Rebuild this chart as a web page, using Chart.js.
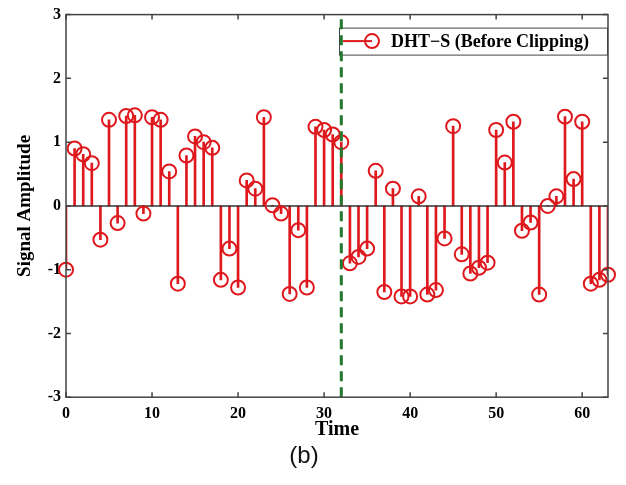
<!DOCTYPE html>
<html>
<head>
<meta charset="utf-8">
<script src="https://cdn.jsdelivr.net/npm/chart.js@4.4.0/dist/chart.umd.min.js"></script>
<style>
  html, body { margin: 0; padding: 0; background: #fff; }
</style>
</head>
<body>
<canvas id="chart" width="626" height="485"></canvas>
<script>
// sample index (time) and DHT-S amplitude before clipping
const timeIdx = [
  0, 1, 2, 3, 4, 5, 6, 7, 8, 9,
  10, 11, 12, 13, 14, 15, 16, 17, 18, 19,
  20, 21, 22, 23, 24, 25, 26, 27, 28, 29,
  30, 31, 32, 33, 34, 35, 36, 37, 38, 39,
  40, 41, 42, 43, 44, 45, 46, 47, 48, 49,
  50, 51, 52, 53, 54, 55, 56, 57, 58, 59,
  60, 61, 62, 63
];
const amplitude = [
  -1.0, 0.9, 0.81, 0.67, -0.53, 1.35, -0.27, 1.41, 1.42, -0.12,
  1.39, 1.35, 0.54, -1.22, 0.79, 1.09, 1.0, 0.91, -1.16, -0.67,
  -1.28, 0.40, 0.27, 1.39, 0.01, -0.12, -1.38, -0.38, -1.28, 1.24,
  1.19, 1.12, 1.0, -0.9, -0.8, -0.67, 0.55, -1.35, 0.27, -1.42,
  -1.42, 0.15, -1.39, -1.32, -0.51, 1.25, -0.76, -1.06, -0.97, -0.89,
  1.19, 0.68, 1.32, -0.39, -0.26, -1.39, 0.0, 0.15, 1.40, 0.42,
  1.32, -1.22, -1.16, -1.08
];
const clipMark = [32];
const xTicks = [0, 10, 20, 30, 40, 50, 60];
const yTicks = [-3, -2, -1, 0, 1, 2, 3];
const xRange = [0, 63];
const yRange = [-3, 3];
const seriesLabel = 'DHT\u2212S (Before Clipping)';

const RED = 'rgb(222, 24, 28)';
const GREEN = 'rgb(34, 120, 44)';
const serif = "'Liberation Serif', 'Times New Roman', serif";

const points = timeIdx.map((t, i) => ({ x: t, y: amplitude[i] }));

// box + inward tick marks, matlab style
const framePlugin = {
  id: 'frame',
  afterDraw(chart) {
    const { ctx, chartArea: a, scales } = chart;
    const len = 5;
    ctx.save();
    ctx.strokeStyle = '#444';
    ctx.lineWidth = 1.5;
    ctx.strokeRect(a.left, a.top, a.right - a.left, a.bottom - a.top);
    ctx.beginPath();
    xTicks.forEach(v => {
      const px = scales.x.getPixelForValue(v);
      ctx.moveTo(px, a.bottom); ctx.lineTo(px, a.bottom - len);
      ctx.moveTo(px, a.top); ctx.lineTo(px, a.top + len);
    });
    yTicks.forEach(v => {
      const py = scales.y.getPixelForValue(v);
      ctx.moveTo(a.left, py); ctx.lineTo(a.left + len, py);
      ctx.moveTo(a.right, py); ctx.lineTo(a.right - len, py);
    });
    ctx.stroke();
    ctx.restore();
  }
};

// boxed legend in top right corner
const legendPlugin = {
  id: 'boxLegend',
  beforeDatasetsDraw(chart) {
    const { ctx, chartArea: a } = chart;
    const w = 268, h = 27;
    const x = a.right - w - 1, y = a.top + 13;
    ctx.save();
    ctx.fillStyle = '#fff';
    ctx.fillRect(x, y, w, h);
    ctx.strokeStyle = '#444';
    ctx.lineWidth = 1;
    ctx.strokeRect(x + 0.5, y + 0.5, w, h);
    const cy = y + h / 2;
    ctx.strokeStyle = RED;
    ctx.lineWidth = 2;
    ctx.beginPath();
    ctx.moveTo(x + 4, cy); ctx.lineTo(x + 33, cy);
    ctx.stroke();
    ctx.beginPath();
    ctx.arc(x + 33, cy, 7, 0, Math.PI * 2);
    ctx.stroke();
    ctx.fillStyle = '#000';
    ctx.font = 'bold 18px ' + serif;
    ctx.textBaseline = 'middle';
    ctx.fillText(seriesLabel, x + 52, cy + 1);
    ctx.restore();
  }
};

new Chart(document.getElementById('chart'), {
  type: 'bar',
  data: {
    datasets: [
      {
        type: 'line',
        data: [{ x: clipMark[0], y: yRange[0] }, { x: clipMark[0], y: yRange[1] }],
        borderColor: GREEN,
        borderWidth: 3,
        borderDash: [10, 6],
        pointRadius: 0,
        order: 0
      },
      {
        type: 'line',
        data: points,
        showLine: false,
        pointRadius: 7,
        pointBorderWidth: 2,
        pointBorderColor: RED,
        pointBackgroundColor: 'rgba(0,0,0,0)',
        clip: false,
        order: 1
      },
      {
        type: 'line',
        data: [{ x: xRange[0], y: 0 }, { x: xRange[1], y: 0 }],
        borderColor: '#333',
        borderWidth: 1.5,
        pointRadius: 0,
        order: 2
      },
      {
        type: 'bar',
        data: points,
        backgroundColor: RED,
        borderWidth: 0,
        barThickness: 2,
        order: 3
      }
    ]
  },
  options: {
    responsive: false,
    animation: false,
    devicePixelRatio: 1,
    events: [],
    layout: { padding: { top: 14, right: 18, left: 0, bottom: 0 } },
    plugins: {
      legend: { display: false },
      tooltip: { enabled: false },
      title: {
        display: true,
        position: 'bottom',
        text: '(b)',
        color: '#111',
        font: { family: "'Liberation Sans', Arial, sans-serif", size: 24, weight: 'normal' },
        padding: { top: 0, bottom: 14 }
      }
    },
    scales: {
      x: {
        type: 'linear',
        min: xRange[0],
        max: xRange[1],
        offset: false,
        grid: { display: false, drawTicks: false },
        border: { display: false },
        afterBuildTicks: s => { s.ticks = xTicks.map(v => ({ value: v })); },
        afterFit: s => { s.height = 45; },
        ticks: {
          color: '#000',
          padding: 7,
          maxRotation: 0,
          autoSkip: false,
          font: { family: serif, size: 16, weight: 'bold' }
        },
        title: {
          display: true,
          text: 'Time',
          color: '#000',
          font: { family: serif, size: 20, weight: 'bold' },
          padding: { top: 0, bottom: 0 }
        }
      },
      y: {
        type: 'linear',
        min: yRange[0],
        max: yRange[1],
        grid: { display: false, drawTicks: false },
        border: { display: false },
        afterBuildTicks: s => { s.ticks = yTicks.map(v => ({ value: v })); },
        afterFit: s => { s.width = 66; },
        ticks: {
          color: '#000',
          padding: 5,
          font: { family: serif, size: 16, weight: 'bold' }
        },
        title: {
          display: true,
          text: 'Signal Amplitude',
          color: '#000',
          font: { family: serif, size: 19, weight: 'bold' },
          padding: { top: 14, bottom: 0 }
        }
      }
    }
  },
  plugins: [framePlugin, legendPlugin]
});
</script>
</body>
</html>
